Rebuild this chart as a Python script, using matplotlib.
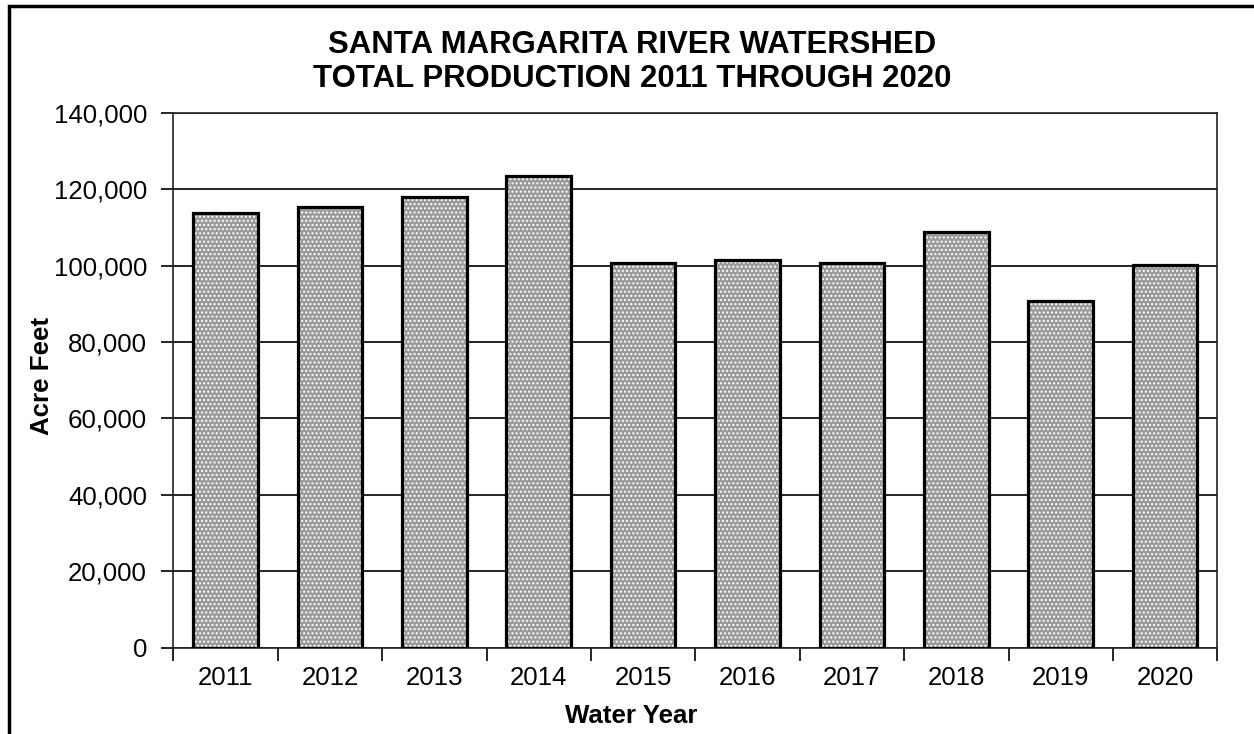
import matplotlib
matplotlib.use("Agg")
import matplotlib.pyplot as plt
from matplotlib.patches import Rectangle
from matplotlib.ticker import FuncFormatter, MultipleLocator
import numpy as np

years = ["2011", "2012", "2013", "2014", "2015", "2016", "2017", "2018", "2019", "2020"]
acre_feet = [113700, 115400, 118000, 123350, 100650, 101350, 100650, 108700, 90650, 100150]

title = "SANTA MARGARITA RIVER WATERSHED\nTOTAL PRODUCTION 2011 THROUGH 2020"
xlabel = "Water Year"
ylabel = "Acre Feet"

plt.rcParams['font.family'] = ['Liberation Sans', 'DejaVu Sans']

fig = plt.figure(figsize=(12.54, 7.34), dpi=100)
ax = fig.add_axes([173.3/1254, 1-647.5/734, (1217.3-173.3)/1254, (647.5-112.7)/734])

x = np.arange(len(years))
w = 0.62
ax.bar(x, acre_feet, width=w, color='#9a9a9a', edgecolor='white', linewidth=0, hatch='....', zorder=3)
ax.bar(x, acre_feet, width=w, fill=False, edgecolor='black', linewidth=2.3, zorder=4)

ax.set_xlim(-0.5, len(years) - 0.5)
ax.set_ylim(0, 140000)
ax.yaxis.set_major_locator(MultipleLocator(20000))
ax.yaxis.set_major_formatter(FuncFormatter(lambda v, p: f"{int(v):,}"))
ax.grid(axis='y', color='black', linewidth=1.2, zorder=1)

ax.set_xticks(x)
ax.set_xticklabels(years, fontsize=18.6)
ax.set_xticks(np.arange(len(years) + 1) - 0.5, minor=True)
ax.tick_params(axis='x', which='major', length=0, pad=13)
ax.tick_params(axis='x', which='minor', length=9, width=1.2, direction='out')
ax.tick_params(axis='y', length=9, width=1.2, direction='out', labelsize=18.6, pad=10)
for s in ax.spines.values():
    s.set_linewidth(1.2)
    s.set_color('#222222')

fig.text(42/1254, 1-376/734, ylabel, rotation=90, fontsize=18.6, fontweight='bold',
         ha='center', va='center')
fig.text(631/1254, 1-716/734, xlabel, fontsize=18.6, fontweight='bold', ha='center', va='center')
fig.text(632/1254, 1-62/734, title, fontsize=22.4, fontweight='bold', ha='center', va='center',
         linespacing=1.17)

fig.patches.append(Rectangle((9/1254, -0.05), 1.1, 1-6/734 + 0.05, transform=fig.transFigure,
                             fill=False, edgecolor='black', linewidth=2.5))

fig.savefig("out.png", dpi=100)
